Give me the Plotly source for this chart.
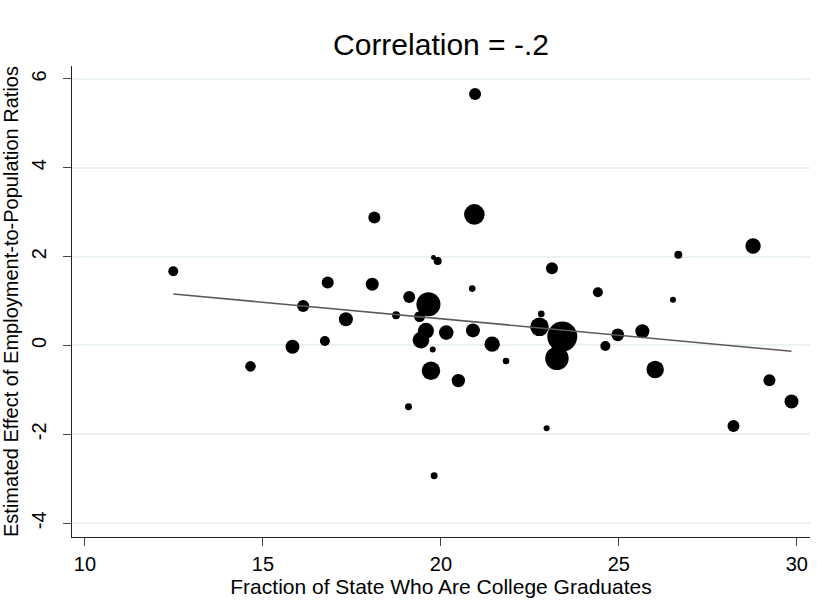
import plotly.graph_objects as go

# State-level observations: college graduate share vs. estimated effect
college_share = [
    20.96, 20.94, 18.13, 19.79, 19.91, 23.12, 26.67, 28.77, 19.11, 19.65,
    20.88, 24.41, 26.52, 18.74, 19.40, 19.58, 19.44, 19.77, 20.15, 20.90,
    21.44, 21.83, 19.72, 20.49, 19.09, 19.81, 22.82, 22.77, 23.41, 23.26,
    22.97, 24.62, 24.97, 25.66, 26.02, 29.23, 29.85, 28.22, 16.82, 16.13,
    17.33, 16.74, 15.83, 14.65, 12.48, 18.07,
]
effect = [
    5.66, 2.95, 2.88, 1.98, 1.90, 1.74, 2.04, 2.24, 1.09, 0.93,
    1.28, 1.20, 1.03, 0.68, 0.65, 0.33, 0.12, -0.09, 0.29, 0.34,
    0.03, -0.35, -0.57, -0.79, -1.38, -2.93, 0.71, 0.42, 0.20, -0.29,
    -1.86, -0.01, 0.24, 0.32, -0.54, -0.78, -1.26, -1.81, 1.42, 0.89,
    0.59, 0.10, -0.03, -0.47, 1.67, 1.38,
]
# Analytic weights (marker area is proportional to weight)
weight = [
    36, 106, 36, 6, 16, 36, 16, 59, 36, 144,
    11, 25, 9, 16, 30, 64, 69, 9, 53, 49,
    59, 11, 86, 45, 12, 12, 11, 86, 225, 137,
    9, 25, 40, 49, 76, 36, 49, 36, 36, 36,
    49, 25, 49, 28, 25, 42,
]

# Weighted linear fit, evaluated at the ends of the data range
fit_x = [12.48, 29.85]
fit_y = [1.16, -0.13]

y_ticks = [-4, -2, 0, 2, 4, 6]
x_ticks = [10, 15, 20, 25, 30]

FONT = "Liberation Sans, Arial, Helvetica, sans-serif"

fig = go.Figure()
fig.add_trace(go.Scatter(
    x=college_share, y=effect, mode="markers",
    marker=dict(size=weight, sizemode="area", sizeref=0.5,
                color="black", opacity=1, line=dict(width=0)),
    hoverinfo="x+y", showlegend=False,
))
fig.add_trace(go.Scatter(
    x=fit_x, y=fit_y, mode="lines",
    line=dict(color="#5a5a5a", width=1.6),
    hoverinfo="skip", showlegend=False,
))

fig.update_layout(
    width=822, height=616,
    margin=dict(l=72, r=12, t=66, b=79),
    paper_bgcolor="white", plot_bgcolor="white",
    font=dict(family=FONT, color="black"),
    title=dict(text="Correlation = -.2", x=0.5365, xanchor="center",
               y=0.928, yanchor="middle", yref="container",
               font=dict(size=30, family=FONT, color="black")),
    xaxis=dict(
        range=[9.635, 30.37], tickvals=x_ticks,
        ticktext=[str(v) for v in x_ticks],
        showgrid=False, zeroline=False, automargin=False,
        showline=True, linecolor="#222", linewidth=1.3,
        ticks="outside", ticklen=8, tickwidth=1.3, tickcolor="#444",
        tickfont=dict(size=20), ticklabelstandoff=1,
        title=dict(text="Fraction of State Who Are College Graduates",
                   font=dict(size=21), standoff=0),
    ),
    yaxis=dict(
        range=[-4.31, 6.29], tickvals=y_ticks,
        ticktext=[str(v) for v in y_ticks],
        showgrid=True, gridcolor="#e9f1f1", gridwidth=1.5,
        zeroline=False, automargin=False,
        showline=True, linecolor="#222", linewidth=1.3,
        ticks="outside", ticklen=8, tickwidth=1.3, tickcolor="#444",
        tickangle=-90, tickfont=dict(size=20), ticklabelstandoff=9,
        title=dict(text="Estimated Effect of Employment-to-Population Ratios",
                   font=dict(size=20), standoff=5),
    ),
)

fig.write_html("out.html")
